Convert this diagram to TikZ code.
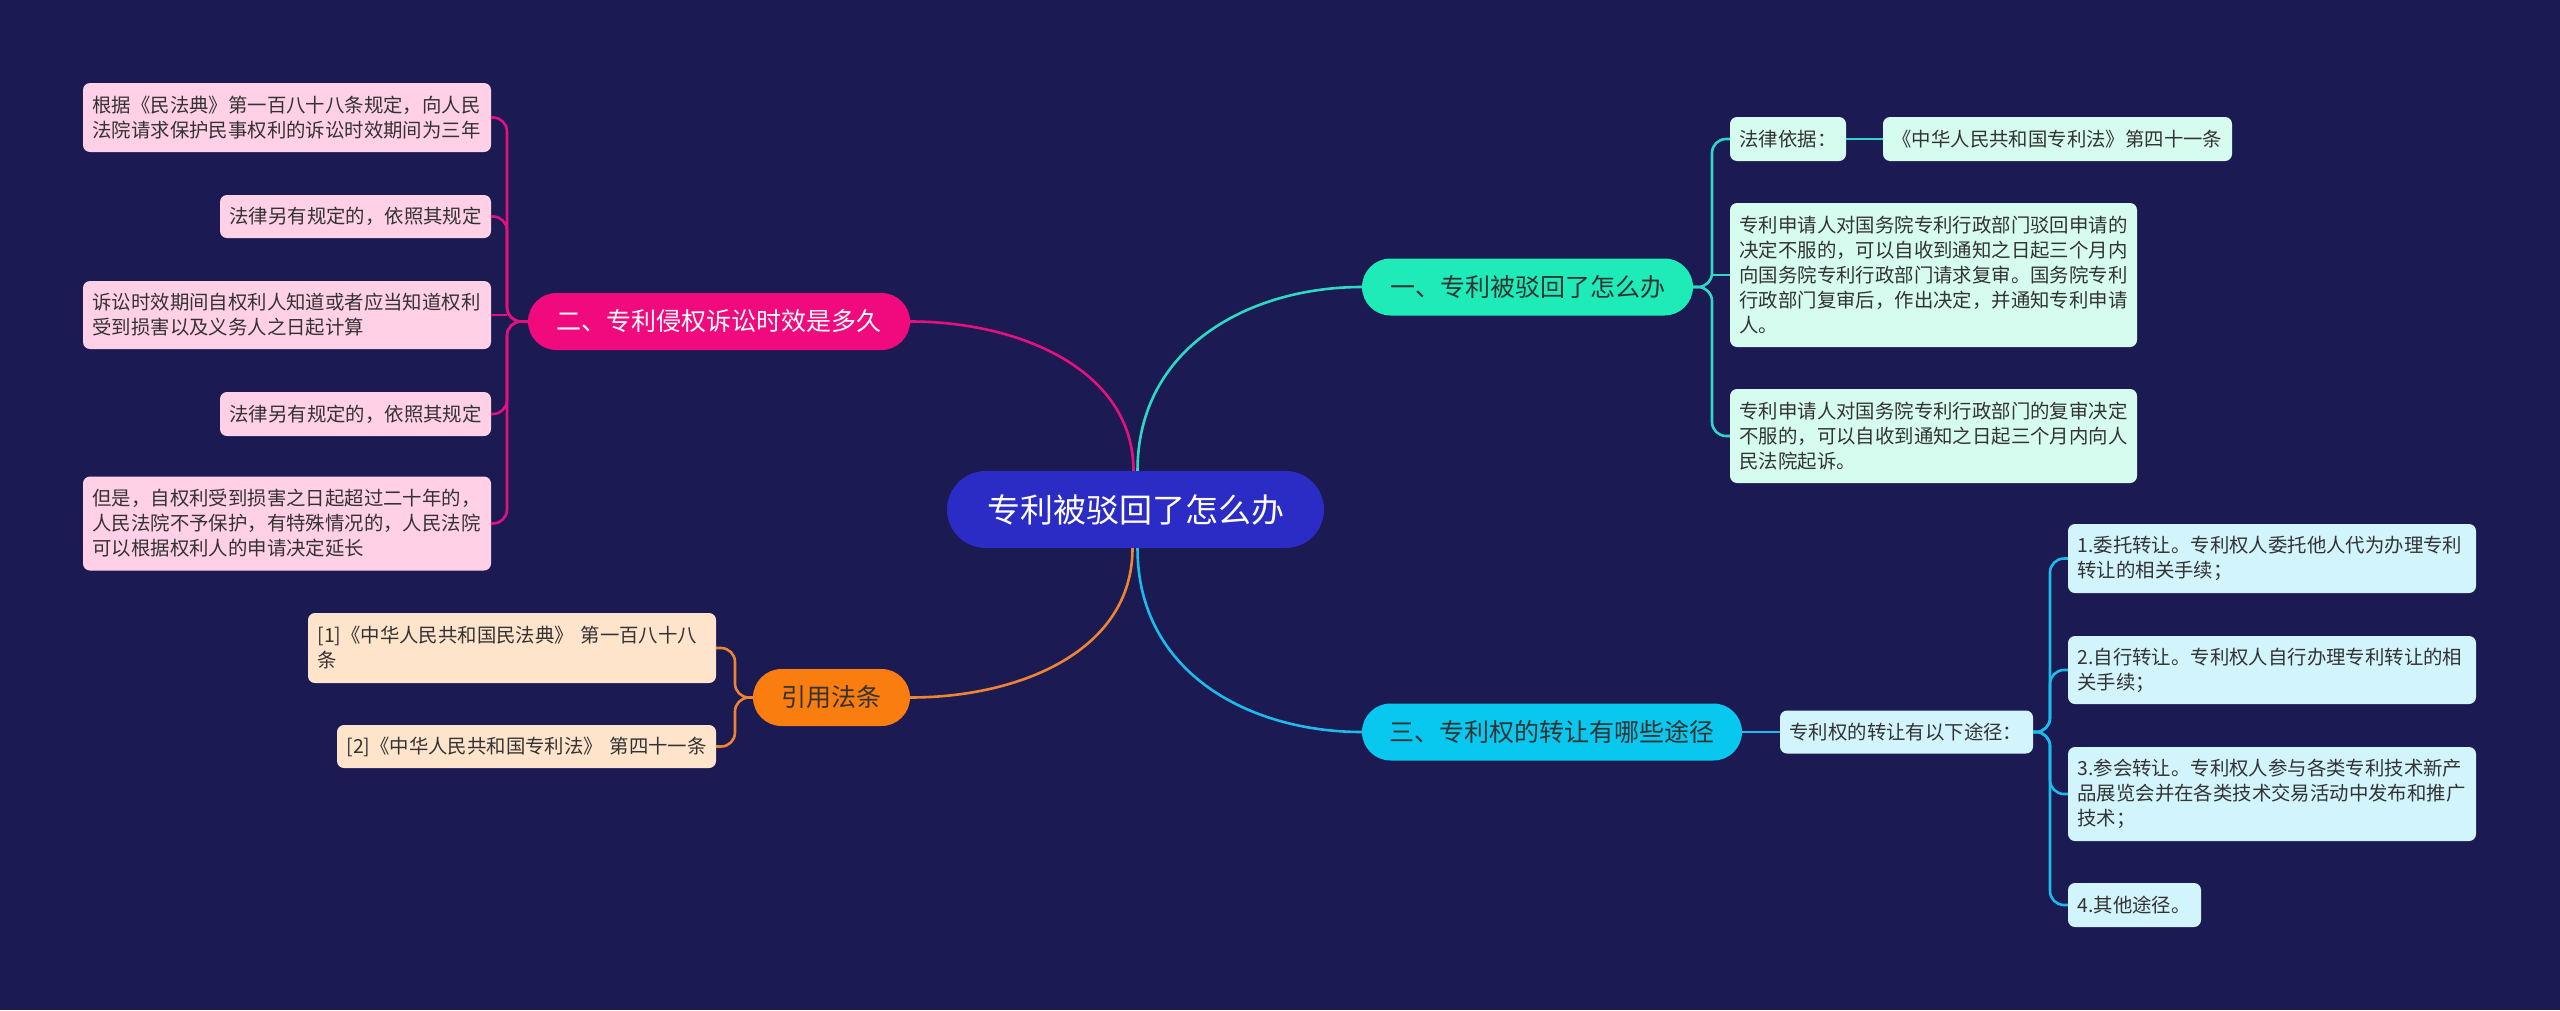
\documentclass[tikz,border=0pt]{standalone}
\usepackage{fontspec}
\newfontfamily\cjk{Noto Sans CJK SC}
\definecolor{bg}{HTML}{1B1A52}
\definecolor{rootc}{HTML}{2B2BC6}
\definecolor{tealc}{HTML}{1FEBB9}
\definecolor{teall}{HTML}{2ED9C3}
\definecolor{pinkc}{HTML}{F00A7D}
\definecolor{pinkl}{HTML}{E3117F}
\definecolor{cyanc}{HTML}{08C8F0}
\definecolor{cyanl}{HTML}{1DBBEB}
\definecolor{orc}{HTML}{FA7D0F}
\definecolor{orl}{HTML}{EE8433}
\definecolor{lteal}{HTML}{D6FCF0}
\definecolor{lpink}{HTML}{FFD0E6}
\definecolor{lcyan}{HTML}{D2F4FC}
\definecolor{lor}{HTML}{FFE4CC}
\definecolor{txt}{HTML}{333333}
\begin{document}
\begin{tikzpicture}[x=1pt,y=-1pt,
  pill/.style={rounded corners=28.5pt, minimum height=57pt, inner sep=0pt,
    font=\cjk\fontsize{25}{30}\selectfont},
  leaf/.style={rounded corners=7pt, align=left, inner xsep=9.5pt, inner ysep=0pt,
    font=\cjk\fontsize{19.4}{25}\selectfont, text=txt},
  conn/.style={line width=2.6pt, rounded corners=14pt},
  curve/.style={line width=2.6pt},
]
\fill[bg] (0,0) rectangle (2560,1010);
\useasboundingbox (0,0) rectangle (2560,1010);

% root and main branches
\node[pill, fill=rootc, text=white, minimum width=377pt, minimum height=77pt,
  rounded corners=38.5pt, font=\cjk\fontsize{33}{40}\selectfont] (root) at (1135.5,509.5) {专利被驳回了怎么办};
\node[pill, fill=tealc, text=txt, minimum width=331pt] (b1) at (1527.5,287) {一、专利被驳回了怎么办};
\node[pill, fill=pinkc, text=white, minimum width=382pt] (b2) at (719,321.5) {二、专利侵权诉讼时效是多久};
\node[pill, fill=cyanc, text=txt, minimum width=380pt] (b3) at (1552,732) {三、专利权的转让有哪些途径};
\node[pill, fill=orc, text=txt, minimum width=157pt] (b4) at (831.5,697.5) {引用法条};

% branch 1 leaves
\node[leaf, fill=lteal, text width=97pt, minimum height=44pt] (L1a) at (1788,139) {法律依据：};
\node[leaf, fill=lteal, text width=330pt, minimum height=44pt] (L1b) at (2057.5,139) {《中华人民共和国专利法》第四十一条};
\node[leaf, fill=lteal, text width=388pt, minimum height=144pt] (L1c) at (1933.5,275) {专利申请人对国务院专利行政部门驳回申请的\\决定不服的，可以自收到通知之日起三个月内\\向国务院专利行政部门请求复审。国务院专利\\行政部门复审后，作出决定，并通知专利申请\\人。};
\node[leaf, fill=lteal, text width=388pt, minimum height=94pt] (L1d) at (1933.5,436) {专利申请人对国务院专利行政部门的复审决定\\不服的，可以自收到通知之日起三个月内向人\\民法院起诉。};

% branch 2 leaves
\node[leaf, fill=lpink, text width=389pt, minimum height=69pt] (L2a) at (287,117.5) {根据《民法典》第一百八十八条规定，向人民\\法院请求保护民事权利的诉讼时效期间为三年};
\node[leaf, fill=lpink, text width=252pt, minimum height=43pt] (L2b) at (355.5,216.5) {法律另有规定的，依照其规定};
\node[leaf, fill=lpink, text width=389pt, minimum height=68pt] (L2c) at (287,315) {诉讼时效期间自权利人知道或者应当知道权利\\受到损害以及义务人之日起计算};
\node[leaf, fill=lpink, text width=252pt, minimum height=44pt] (L2d) at (355.5,414) {法律另有规定的，依照其规定};
\node[leaf, fill=lpink, text width=389pt, minimum height=94pt] (L2e) at (287,523.5) {但是，自权利受到损害之日起超过二十年的，\\人民法院不予保护，有特殊情况的，人民法院\\可以根据权利人的申请决定延长};

% branch 3 leaves
\node[leaf, fill=lcyan, text width=234pt, minimum height=43pt] (L3) at (1906.5,732) {专利权的转让有以下途径：};
\node[leaf, fill=lcyan, text width=389pt, minimum height=69pt] (L3a) at (2272,558.5) {1.委托转让。专利权人委托他人代为办理专利\\转让的相关手续；};
\node[leaf, fill=lcyan, text width=389pt, minimum height=68pt] (L3b) at (2272,670) {2.自行转让。专利权人自行办理专利转让的相\\关手续；};
\node[leaf, fill=lcyan, text width=389pt, minimum height=94pt] (L3c) at (2272,794) {3.参会转让。专利权人参与各类专利技术新产\\品展览会并在各类技术交易活动中发布和推广\\技术；};
\node[leaf, fill=lcyan, text width=114pt, minimum height=44pt] (L3d) at (2134.5,905) {4.其他途径。};

% branch 4 leaves
\node[leaf, fill=lor, text width=389pt, minimum height=70pt] (L4a) at (512,648) {\mbox{[1]《中华人民共和国民法典》 第一百八十八}\\条};
\node[leaf, fill=lor, text width=360pt, minimum height=43pt] (L4b) at (526.5,746.5) {\hfill\mbox{[2]《中华人民共和国专利法》 第四十一条}};

% root curves
\draw[curve, teall] ([xshift=2pt]root.north) .. controls +(0,-124) and +(-112,0) .. (b1.west);
\draw[curve, pinkl] ([xshift=-2pt]root.north) .. controls +(0,-100) and +(111,0) .. (b2.east);
\draw[curve, orl] ([xshift=-3pt]root.south) .. controls +(0,102) and +(111,0) .. (b4.east);
\draw[curve, cyanl] ([xshift=2pt]root.south) .. controls +(0,125) and +(-112,0) .. (b3.west);

% branch 1 connectors
\coordinate (s1) at (1712,287);
\draw[conn, teall] (b1.east) -- (s1) |- (L1a.west);
\draw[conn, teall] (b1.east) -- (s1) |- (L1d.west);
\draw[conn, teall] (s1 |- L1c.west) -- (L1c.west);
\draw[conn, teall] (L1a.east) -- (L1b.west);

% branch 2 connectors
\coordinate (s2) at (507,321.5);
\draw[conn, pinkl] (b2.west) -- (s2) |- (L2a.east);
\draw[conn, pinkl] (b2.west) -- (s2) |- (L2b.east);
\draw[conn, pinkl] (s2 |- L2c.east) -- (L2c.east);
\draw[conn, pinkl] (b2.west) -- (s2) |- (L2d.east);
\draw[conn, pinkl] (b2.west) -- (s2) |- (L2e.east);

% branch 3 connectors
\draw[conn, cyanl] (b3.east) -- (L3.west);
\coordinate (s3) at (2050,732);
\draw[conn, cyanl] (L3.east) -- (s3) |- (L3a.west);
\draw[conn, cyanl] (L3.east) -- (s3) |- (L3b.west);
\draw[conn, cyanl] (L3.east) -- (s3) |- (L3c.west);
\draw[conn, cyanl] (L3.east) -- (s3) |- (L3d.west);

% branch 4 connectors
\coordinate (s4) at (735,697.5);
\draw[conn, orl] (b4.west) -- (s4) |- (L4a.east);
\draw[conn, orl] (b4.west) -- (s4) |- (L4b.east);
\end{tikzpicture}
\end{document}
